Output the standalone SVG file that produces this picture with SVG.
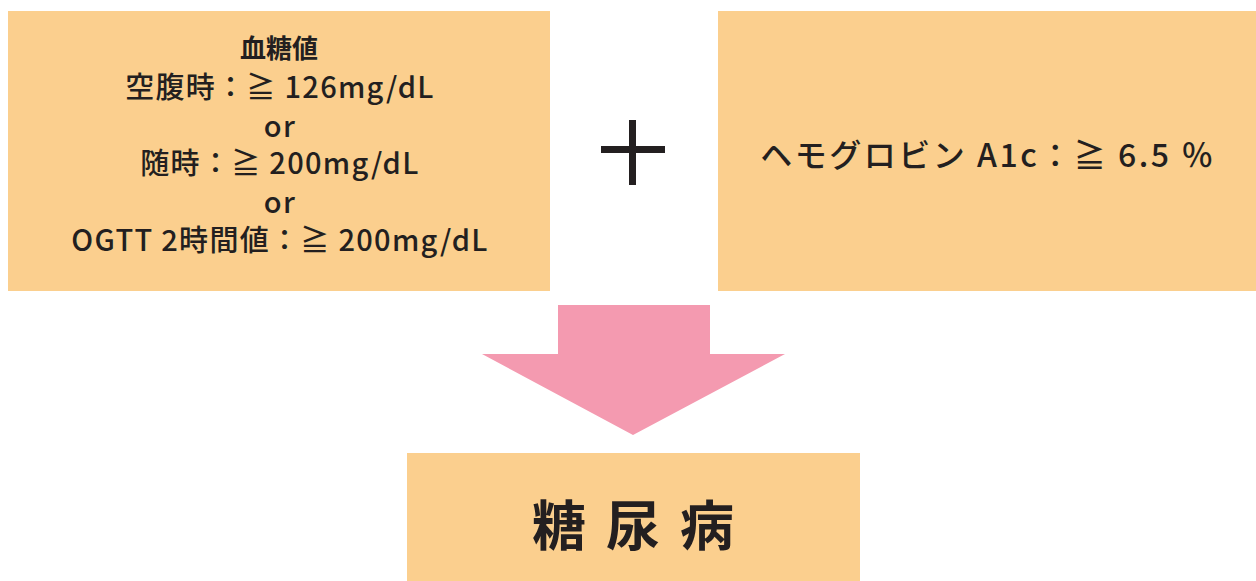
<svg xmlns="http://www.w3.org/2000/svg" width="1256" height="581" viewBox="0 0 1256 581">
<style>
.box{fill:#FBCF8E}
.t{font-family:"Noto Sans CJK JP","Noto Sans",sans-serif;fill:#231F20;text-anchor:middle}
.l{font-size:29px;font-weight:500;letter-spacing:1.3px}
</style>
<rect width="1256" height="581" fill="#FFFFFF"/>
<g id="blood-glucose">
<rect class="box" x="8" y="11" width="542" height="280"/>
<text class="t" x="279" y="58" font-size="26" font-weight="bold">血糖値</text>
<text class="t l" x="280" y="98">空腹時：≧ 126mg/dL</text>
<text class="t l" x="280" y="137">or</text>
<text class="t l" x="280" y="174">随時：≧ 200mg/dL</text>
<text class="t l" x="280" y="213">or</text>
<text class="t l" x="280" y="251">OGTT 2時間値：≧ 200mg/dL</text>
</g>
<g id="plus">
<rect x="601" y="146" width="64" height="7" fill="#231F20"/>
<rect x="629" y="120" width="7" height="65" fill="#231F20"/>
</g>
<g id="hba1c">
<rect class="box" x="718" y="11" width="538" height="280"/>
<text class="t" x="988" y="167" font-size="32" font-weight="500" letter-spacing="2.5">ヘモグロビン A1c：≧ 6.5 ％</text>
</g>
<g id="connectors">
<polygon points="558,305 710,305 710,354 785,354 633,435 482,354 558,354" fill="#F49AB0"/>
</g>
<g id="diabetes">
<rect class="box" x="407" y="453" width="453" height="128"/>
<text class="t" x="643" y="546" font-size="54" font-weight="bold" letter-spacing="20">糖尿病</text>
</g>
</svg>
